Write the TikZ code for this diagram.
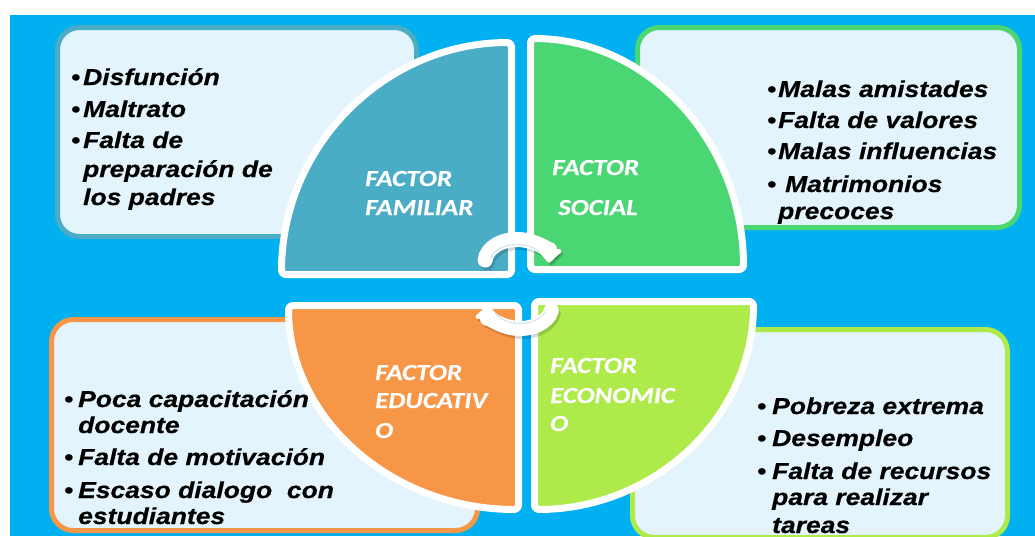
\documentclass[tikz,border=0pt]{standalone}
\usepackage{fontspec}
\setmainfont{Liberation Sans}
\newfontfamily\boxfont[FakeStretch=1.15,FakeBold=0.6,UprightFont=* Bold Italic]{Liberation Sans}
\newfontfamily\bulfont[FakeStretch=1.15,UprightFont=* Bold]{Liberation Sans}
\newfontfamily\qfont[FakeStretch=1.17,FakeBold=0.3,UprightFont=* Bold Italic]{Carlito}
\usetikzlibrary{arrows.meta,shadows}
\definecolor{bgblue}{HTML}{00B0F0}
\definecolor{boxfill}{HTML}{E3F4FC}
\definecolor{famc}{HTML}{4BACC6}
\definecolor{socc}{HTML}{4AD673}
\definecolor{educ}{HTML}{F79646}
\definecolor{ecoc}{HTML}{ADEA4A}
\definecolor{arrline}{HTML}{D6E8F0}
\tikzset{
  infobox/.style={line width=5pt, fill=boxfill, rounded corners=22pt},
  quad/.style={draw=white, line width=7pt, rounded corners=4pt, line join=round,
    drop shadow={shadow xshift=1.5pt, shadow yshift=-3pt, opacity=0.3, fill=black!70}},
  itemtext/.style={anchor=base west, inner sep=0pt, text=black,
    font=\boxfont\fontsize{23}{27}\selectfont},
  bul/.style={anchor=base, inner sep=0pt, text=black,
    font=\bulfont\fontsize{23}{27}\selectfont},
  qlabel/.style={anchor=base west, inner sep=0pt, text=white,
    font=\qfont\fontsize{23}{27}\selectfont},
  cyc/.style={line width=15pt, draw=white, line cap=round,
    -{Triangle[width=28pt,length=15pt,fill=white,round]}},
  cycshadow/.style={line width=15pt, draw=black, opacity=0.15, line cap=round,
    -{Triangle[width=28pt,length=15pt,round]}},
  cycline/.style={line width=1.2pt, draw=arrline},
}
\begin{document}
\begin{tikzpicture}[x=1pt,y=-1pt]
\useasboundingbox (0,0) rectangle (1035,536);
\fill[white] (0,0) rectangle (1035,536);
\fill[bgblue] (10,15) rectangle (1035,536);

% information boxes
\draw[infobox, draw=famc] (57.5,27.5) rectangle (416.5,236.5);
\draw[infobox, draw=socc] (637.5,27.5) rectangle (1019.5,227.5);
\draw[infobox, draw=educ] (51.5,319.5) rectangle (477.5,530.5);
\begin{scope}
\clip (0,0) rectangle (1035,536);
\draw[infobox, draw=ecoc] (632.5,329.5) rectangle (1007.5,537.5);
\end{scope}

% quadrants
\path[quad, fill=famc] (511.5,274.5) -- (511.5,42.5)
  arc[start angle=-90, end angle=-180, x radius=230, y radius=232] -- cycle;
\path[quad, fill=socc] (530.5,269.5) -- (530.5,38.5)
  arc[start angle=-90, end angle=0, x radius=213, y radius=231] -- cycle;
\path[quad, fill=educ] (518.5,305.5) -- (288.5,305.5)
  arc[start angle=180, end angle=90, x radius=230, y radius=204] -- cycle;
\path[quad, fill=ecoc] (534.5,301.5) -- (753.5,301.5)
  arc[start angle=0, end angle=90, x radius=219, y radius=208] -- cycle;

% cycle arrows
\coordinate (ctop) at (517,262);
\coordinate (cbot) at (520,306);
\draw[cycshadow] ([shift={(2,3)}]ctop) ++(185:32 and 22.5) arc[start angle=185, end angle=362, x radius=32, y radius=22.5];
\draw[cycshadow] ([shift={(2,3)}]cbot) ++(12:32 and 22.5) arc[start angle=12, end angle=182, x radius=32, y radius=22.5];
\draw[cyc] (ctop) ++(185:32 and 22.5) arc[start angle=185, end angle=362, x radius=32, y radius=22.5];
\draw[cyc] (cbot) ++(12:32 and 22.5) arc[start angle=12, end angle=182, x radius=32, y radius=22.5];
\draw[cycline] (ctop) ++(190:27 and 17.5) arc[start angle=190, end angle=325, x radius=27, y radius=17.5];
\draw[cycline] (cbot) ++(20:27 and 17.5) arc[start angle=20, end angle=155, x radius=27, y radius=17.5];

% quadrant labels
\node[qlabel] (fam1) at (365,186) {FACTOR};
\node[qlabel] (fam2) at (365,215) {FAMILIAR};
\node[qlabel] (soc1) at (552,175) {FACTOR};
\node[qlabel] (soc2) at (558,215) {SOCIAL};
\node[qlabel] (edu1) at (375,380) {FACTOR};
\node[qlabel] (edu2) at (375,408) {EDUCATIV};
\node[qlabel] (edu3) at (375,438) {O};
\node[qlabel] (eco1) at (550,373) {FACTOR};
\node[qlabel] (eco2) at (550,403) {ECONOMIC};
\node[qlabel] (eco3) at (550,431) {O};

% top-left box text
\node[bul] (b11) at (76,85) {•};
\node[bul] (b12) at (76,117) {•};
\node[bul] (b13) at (76,148) {•};
\node[itemtext] (t11) at (83,85) {Disfunción};
\node[itemtext] (t12) at (83,117) {Maltrato};
\node[itemtext] (t13) at (83,148) {Falta de};
\node[itemtext] (t14) at (83,177) {preparación de};
\node[itemtext] (t15) at (83,205) {los padres};

% top-right box text
\node[bul] (b21) at (772,97) {•};
\node[bul] (b22) at (772,128) {•};
\node[bul] (b23) at (772,159) {•};
\node[bul] (b24) at (772,192) {•};
\node[itemtext] (t21) at (778,97) {Malas amistades};
\node[itemtext] (t22) at (778,128) {Falta de valores};
\node[itemtext] (t23) at (778,159) {Malas influencias};
\node[itemtext] (t24) at (785,192) {Matrimonios};
\node[itemtext] (t25) at (778,219) {precoces};

% bottom-left box text
\node[bul] (b31) at (69,407) {•};
\node[bul] (b32) at (69,465) {•};
\node[bul] (b33) at (69,498) {•};
\node[itemtext] (t31) at (78,407) {Poca capacitación};
\node[itemtext] (t32) at (78,433) {docente};
\node[itemtext] (t33) at (78,465) {Falta de motivación};
\node[itemtext] (t34) at (78,498) {Escaso dialogo\ \ con};
\node[itemtext] (t35) at (78,524) {estudiantes};

% bottom-right box text
\node[bul] (b41) at (762,414) {•};
\node[bul] (b42) at (762,446) {•};
\node[bul] (b43) at (762,479) {•};
\node[itemtext] (t41) at (772,414) {Pobreza extrema};
\node[itemtext] (t42) at (772,446) {Desempleo};
\node[itemtext] (t43) at (772,479) {Falta de recursos};
\node[itemtext] (t44) at (772,505) {para realizar};
\node[itemtext] (t45) at (772,533) {tareas};
\end{tikzpicture}
\end{document}
